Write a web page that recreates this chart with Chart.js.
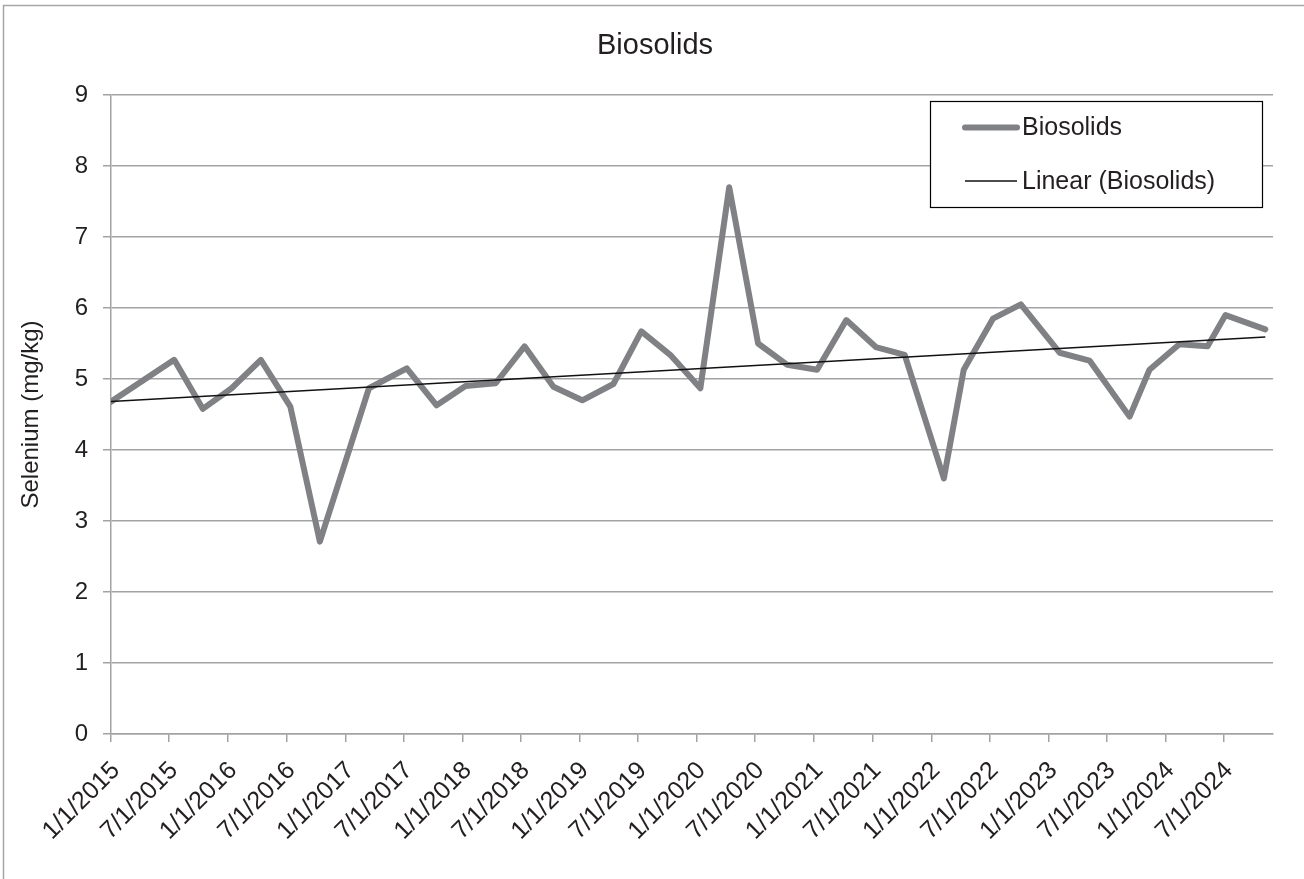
<!DOCTYPE html>
<html>
<head>
<meta charset="utf-8">
<title>Biosolids</title>
<script src="https://cdn.jsdelivr.net/npm/chart.js@4.4.1/dist/chart.umd.min.js"></script>
<style>
  html, body { margin: 0; padding: 0; background: #ffffff; }
  #wrap { width: 1304px; height: 879px; position: relative; }
</style>
</head>
<body>
<div id="wrap"><canvas id="chart" width="1304" height="879"></canvas></div>
<script>
// Sampling dates (M/D/YYYY) and measured selenium in biosolids (mg/kg)
const sampleDates = [
  '1/1/2015', '7/17/2015', '10/14/2015', '1/12/2016', '4/12/2016', '7/13/2016',
  '10/13/2016', '3/15/2017', '7/11/2017', '10/12/2017', '1/10/2018', '4/14/2018',
  '7/13/2018', '10/11/2018', '1/9/2019', '4/16/2019', '7/12/2019', '10/10/2019',
  '1/12/2020', '4/11/2020', '7/10/2020', '10/9/2020', '1/10/2021', '4/11/2021',
  '7/12/2021', '10/10/2021', '2/9/2022', '4/12/2022', '7/12/2022', '10/7/2022',
  '2/5/2023', '5/9/2023', '9/11/2023', '11/12/2023', '2/13/2024', '5/11/2024',
  '7/6/2024', '11/7/2024'
];
const seleniumValues = [
  4.68, 5.27, 4.58, 4.87, 5.27, 4.61,
  2.71, 4.87, 5.15, 4.63, 4.90, 4.94,
  5.46, 4.89, 4.70, 4.93, 5.67, 5.34,
  4.87, 7.70, 5.50, 5.20, 5.13, 5.83,
  5.45, 5.34, 3.60, 5.13, 5.85, 6.05,
  5.37, 5.26, 4.47, 5.13, 5.49, 5.46,
  5.90, 5.70
];

// Date axis: tick labels every six months and the axis span
const tickLabels = [
  '1/1/2015', '7/1/2015', '1/1/2016', '7/1/2016', '1/1/2017', '7/1/2017',
  '1/1/2018', '7/1/2018', '1/1/2019', '7/1/2019', '1/1/2020', '7/1/2020',
  '1/1/2021', '7/1/2021', '1/1/2022', '7/1/2022', '1/1/2023', '7/1/2023',
  '1/1/2024', '7/1/2024'
];
const axisStart = '1/1/2015';
const axisEnd = '12/1/2024';

const yMin = 0, yMax = 9, yStep = 1;

const FONT = '"Liberation Sans", Arial, Helvetica, sans-serif';
const TEXT = '#231f20';
const GRID = '#a3a3a5';
const SERIES = '#808184';

function dayNumber(s) {
  const [m, d, y] = s.split('/').map(Number);
  return Date.UTC(y, m - 1, d) / 86400000;
}

const xs = sampleDates.map(dayNumber);
const tickDays = tickLabels.map(dayNumber);
const labelByDay = {};
tickDays.forEach((v, i) => { labelByDay[v] = tickLabels[i]; });

// Least-squares trend line, as a spreadsheet "Linear" trendline computes it
const n = xs.length;
const mx = xs.reduce((a, b) => a + b, 0) / n;
const my = seleniumValues.reduce((a, b) => a + b, 0) / n;
let sxy = 0, sxx = 0;
for (let i = 0; i < n; i++) {
  sxy += (xs[i] - mx) * (seleniumValues[i] - my);
  sxx += (xs[i] - mx) * (xs[i] - mx);
}
const slope = sxy / sxx;
const intercept = my - slope * mx;
const trendPoints = [xs[0], xs[n - 1]].map(x => ({ x, y: intercept + slope * x }));

// White page with a thin gray frame, plus the centered title
const framePlugin = {
  id: 'frame',
  beforeDraw(chart) {
    const c = chart.ctx;
    c.save();
    c.fillStyle = '#ffffff';
    c.fillRect(0, 0, chart.width, chart.height);
    c.strokeStyle = '#a6a6a6';
    c.lineWidth = 1.5;
    c.strokeRect(3.5, 5.5, chart.width + 10, chart.height + 10);
    c.fillStyle = TEXT;
    c.font = '29px ' + FONT;
    c.textAlign = 'center';
    c.textBaseline = 'middle';
    c.fillText('Biosolids', 655, 46);
    c.restore();
  }
};

// Boxed legend inside the upper right of the plot
const boxLegendPlugin = {
  id: 'boxLegend',
  afterDraw(chart) {
    const c = chart.ctx;
    const a = chart.chartArea;
    const right = a.right - 11, left = right - 332;
    const top = a.top + 6, bottom = top + 106;
    c.save();
    c.fillStyle = '#ffffff';
    c.fillRect(left, top, right - left, bottom - top);
    c.strokeStyle = '#000000';
    c.lineWidth = 1.2;
    c.strokeRect(left + 0.5, top + 0.5, right - left, bottom - top);

    const ds = chart.data.datasets;
    const rows = [top + 26.5, top + 80];
    c.font = '25px ' + FONT;
    c.textBaseline = 'middle';
    c.textAlign = 'left';
    ds.forEach((d, i) => {
      c.beginPath();
      c.strokeStyle = d.borderColor;
      c.lineWidth = d.borderWidth;
      c.lineCap = i === 0 ? 'round' : 'butt';
      c.moveTo(left + 35, rows[i]);
      c.lineTo(left + 87, rows[i]);
      c.stroke();
      c.fillStyle = TEXT;
      c.fillText(d.label, left + 92, rows[i] + 1);
    });
    c.restore();
  }
};

new Chart(document.getElementById('chart'), {
  type: 'line',
  data: {
    datasets: [
      {
        label: 'Biosolids',
        data: xs.map((x, i) => ({ x, y: seleniumValues[i] })),
        borderColor: SERIES,
        borderWidth: 6,
        pointRadius: 0,
        tension: 0,
        borderJoinStyle: 'round',
        borderCapStyle: 'round',
        order: 2
      },
      {
        label: 'Linear (Biosolids)',
        data: trendPoints,
        borderColor: '#111111',
        borderWidth: 1.5,
        pointRadius: 0,
        tension: 0,
        order: 1
      }
    ]
  },
  options: {
    responsive: false,
    animation: false,
    events: [],
    layout: { padding: { left: 0, right: 31, top: 95, bottom: 0 } },
    plugins: {
      legend: { display: false },
      tooltip: { enabled: false },
      title: { display: false }
    },
    scales: {
      x: {
        type: 'linear',
        min: dayNumber(axisStart),
        max: dayNumber(axisEnd),
        afterBuildTicks(scale) { scale.ticks = tickDays.map(v => ({ value: v })); },
        afterFit(scale) { scale.height = 145; },
        ticks: {
          autoSkip: false,
          minRotation: 45,
          maxRotation: 45,
          padding: 14,
          labelOffset: 5,
          color: TEXT,
          font: { family: FONT, size: 25 },
          callback: v => labelByDay[v]
        },
        grid: { drawOnChartArea: false, drawTicks: true, tickLength: 8, color: GRID, lineWidth: 1.5 },
        border: { color: GRID, width: 1.5 }
      },
      y: {
        min: yMin,
        max: yMax,
        afterFit(scale) { scale.width = 111; },
        ticks: {
          stepSize: yStep,
          padding: 15,
          color: TEXT,
          font: { family: FONT, size: 24 }
        },
        grid: { color: GRID, lineWidth: 1.5, tickLength: 8 },
        border: { color: GRID, width: 1.5 },
        title: {
          display: true,
          text: 'Selenium (mg/kg)',
          color: TEXT,
          font: { family: FONT, size: 24 },
          padding: { top: 17, bottom: 0 }
        }
      }
    }
  },
  plugins: [framePlugin, boxLegendPlugin]
});
</script>
</body>
</html>
